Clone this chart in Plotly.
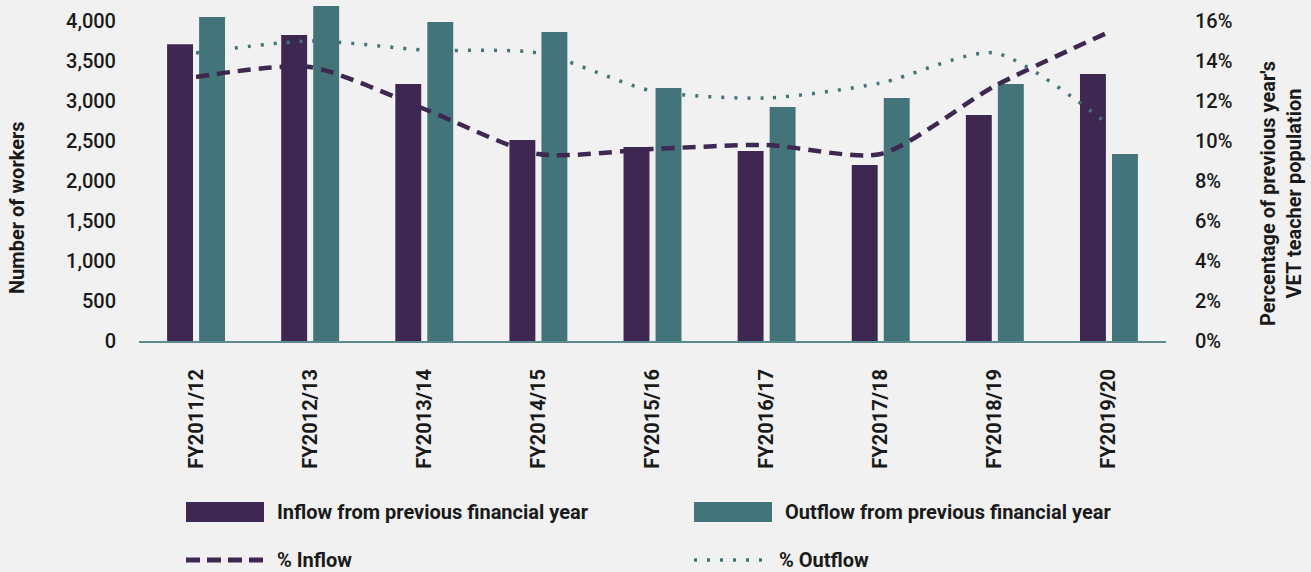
import plotly.graph_objects as go

categories = ["FY2011/12", "FY2012/13", "FY2013/14", "FY2014/15", "FY2015/16",
              "FY2016/17", "FY2017/18", "FY2018/19", "FY2019/20"]
inflow = [3710, 3825, 3212, 2512, 2425, 2375, 2200, 2825, 3337]
outflow = [4050, 4187, 3987, 3862, 3162, 2925, 3037, 3212, 2337]
pct_inflow = [13.2, 13.7, 11.6, 9.35, 9.6, 9.8, 9.35, 12.75, 15.45]
pct_outflow = [14.4, 15.0, 14.55, 14.4, 12.5, 12.15, 12.9, 14.4, 10.8]
left_ticks = [0, 500, 1000, 1500, 2000, 2500, 3000, 3500, 4000]
right_ticks = [0, 2, 4, 6, 8, 10, 12, 14, 16]
right_tick_labels = ["0%", "2%", "4%", "6%", "8%", "10%", "12%", "14%", "16%"]

PURPLE = "#3e2852"
TEAL = "#43747a"
BG = "#f1f1f1"
TXT = "#1a1a1a"
FONT = "Roboto"

W, H = 1311, 572
ML, MR, MT, MB = 139, 145, 5, 231
PW = W - ML - MR
PH = H - MT - MB


def px(x):
    return (x - ML) / PW


def py(y):
    return (H - MB - y) / PH


fig = go.Figure()
fig.add_trace(go.Bar(x=categories, y=inflow, name="Inflow from previous financial year",
                     marker=dict(color=PURPLE, line=dict(width=0)), showlegend=False))
fig.add_trace(go.Bar(x=categories, y=outflow, name="Outflow from previous financial year",
                     marker=dict(color=TEAL, line=dict(width=0)), showlegend=False))
fig.add_trace(go.Scatter(x=categories, y=pct_inflow, name="% Inflow", yaxis="y2",
                         mode="lines", line=dict(color=PURPLE, width=4.5, dash="13px,8px",
                                                 shape="spline", smoothing=0.7),
                         showlegend=False))
fig.add_trace(go.Scatter(x=categories, y=pct_outflow, name="% Outflow", yaxis="y2",
                         mode="lines", line=dict(color=TEAL, width=3.5, dash="3px,10px",
                                                 shape="spline", smoothing=0.7),
                         showlegend=False))

tickfont = dict(family=FONT, size=20, color=TXT, weight=500)

fig.update_layout(
    width=W, height=H,
    margin=dict(l=ML, r=MR, t=MT, b=MB),
    paper_bgcolor=BG, plot_bgcolor=BG,
    barmode="group", bargap=0.439, bargroupgap=0.19,
    font=dict(family=FONT, color=TXT),
    xaxis=dict(tickangle=-90, tickfont=dict(family=FONT, size=20, color=TXT, weight="bold"),
               showline=True, linecolor="#5c8a90", linewidth=2, showgrid=False,
               ticks="", ticklabelstandoff=18, zeroline=False),
    yaxis=dict(range=[0, 4200], tickvals=left_ticks, tickformat=",", showgrid=False,
               zeroline=False, tickfont=tickfont, ticks="", ticklabelstandoff=22),
    yaxis2=dict(range=[0, 16.8], tickvals=right_ticks, ticktext=right_tick_labels,
                overlaying="y", side="right", showgrid=False, zeroline=False,
                tickfont=tickfont, ticks="", ticklabelstandoff=28),
)

annotations = [
    dict(text="<b>Number of workers</b>", textangle=-90, x=px(17), y=py(208),
         xref="paper", yref="paper",
         xanchor="center", yanchor="middle", showarrow=False,
         font=dict(family=FONT, size=20, color=TXT)),
    dict(text="<b>Percentage of previous year's<br>VET teacher population</b>", textangle=-90,
         x=px(1281), y=py(194), xref="paper", yref="paper",
         xanchor="center", yanchor="middle", showarrow=False,
         font=dict(family=FONT, size=20, color=TXT)),
]

shapes = []
legend_items = [
    ("Inflow from previous financial year", "bar", PURPLE, 186, 512, 275),
    ("Outflow from previous financial year", "bar", TEAL, 694, 512, 783),
    ("% Inflow", "dash", PURPLE, 186, 560, 275),
    ("% Outflow", "dot", TEAL, 694, 560, 777),
]
for label, kind, color, x0, yc, tx in legend_items:
    if kind == "bar":
        shapes.append(dict(type="rect", xref="paper", yref="paper",
                           x0=px(x0), x1=px(x0 + 78), y0=py(yc + 10), y1=py(yc - 10),
                           fillcolor=color, line=dict(width=0)))
    elif kind == "dash":
        shapes.append(dict(type="line", xref="paper", yref="paper",
                           x0=px(x0), x1=px(x0 + 78), y0=py(yc), y1=py(yc),
                           line=dict(color=color, width=5, dash="14px,7px")))
    else:
        shapes.append(dict(type="line", xref="paper", yref="paper",
                           x0=px(x0), x1=px(x0 + 72), y0=py(yc), y1=py(yc),
                           line=dict(color=color, width=3.5, dash="3px,10px")))
    annotations.append(dict(text="<b>" + label + "</b>", x=px(tx), y=py(yc),
                            xref="paper", yref="paper",
                            xanchor="left", yanchor="middle", showarrow=False,
                            font=dict(family=FONT, size=20, color=TXT)))

fig.update_layout(annotations=annotations, shapes=shapes)
fig.write_html("out.html", config={"displayModeBar": False},
               post_script="document.body.style.margin='0';")
